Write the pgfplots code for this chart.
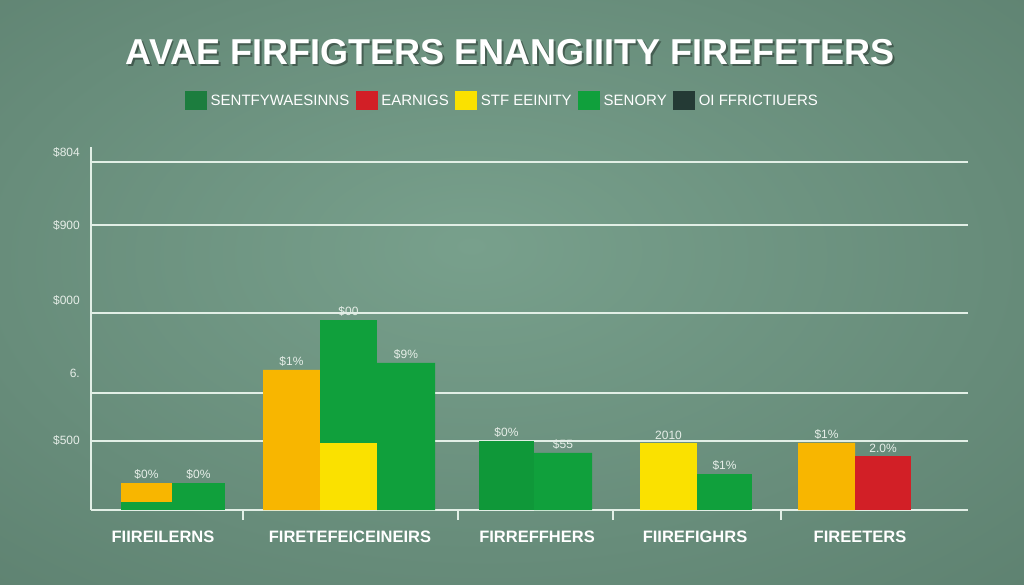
\documentclass[border=0pt]{standalone}
\usepackage{fontspec}
\setmainfont{Liberation Sans}
\usepackage{pgfplots}
\pgfplotsset{compat=1.18}
\definecolor{bgin}{HTML}{78A08C}
\definecolor{bgmid}{HTML}{567868}
\definecolor{bgout}{HTML}{45655A}
\definecolor{gridc}{HTML}{E2EFE6}
\definecolor{labc}{HTML}{E6EEE8}
\definecolor{orangeC}{HTML}{F8B600}
\definecolor{yellowC}{HTML}{FAE100}
\definecolor{greenC}{HTML}{10A03C}
\definecolor{redC}{HTML}{D21F26}
\definecolor{dkgreenC}{HTML}{1C7D3E}
\definecolor{slateC}{HTML}{243A35}
\pgfdeclareradialshading{bgshade}{\pgfpoint{-2bp}{4bp}}{color(0bp)=(bgin); color(50bp)=(bgmid); color(72bp)=(bgout)}
\begin{document}
\begin{tikzpicture}
\useasboundingbox (0bp,0bp) rectangle (1024bp,585bp);
\shade[shading=bgshade] (0bp,0bp) rectangle (1024bp,585bp);
\begin{axis}[
  at={(91bp,75bp)}, anchor=south west, scale only axis,
  width=877bp, height=363bp,
  xmin=91, xmax=968, ymin=0, ymax=363,
  clip=false,
  axis lines=left,
  axis line style={draw=gridc, line width=2bp, -},
  major tick length=0pt,
  tick style={draw=gridc, line width=2bp},
  xtick={163,350,537,695,860},
  xticklabels={FIIREILERNS, FIRETEFEICEINEIRS, FIRREFFHERS, FIIREFIGHRS, FIREETERS},
  xticklabel style={font=\fontsize{16.5bp}{18bp}\selectfont\bfseries, text=white, anchor=base, yshift=-32bp},
  extra x ticks={243,458,613,781},
  extra x tick labels={},
  extra x tick style={major tick length=10bp, tick align=outside},
  ytick={-7,70,137,210,285,358},
  yticklabels={c, \$500, 6., \$000, \$900, \$804},
  yticklabel style={font=\fontsize{12bp}{14bp}\selectfont, text=labc, anchor=east, inner sep=0pt, xshift=-11bp},
  extra y ticks={69,117,197,285,348},
  extra y tick labels={},
  extra y tick style={grid=major},
  major grid style={draw=gridc, line width=2bp},
  nodes near coords style={font=\fontsize{12bp}{13bp}\selectfont, text=labc, anchor=south, inner sep=3bp},
  legend style={at={(0.469,1.127)}, anchor=center, draw=none, fill=none, text=white,
    font=\fontsize{15bp}{16bp}\selectfont, legend columns=5,
    /tikz/every even column/.append style={column sep=5bp},
    /tikz/every odd column/.append style={column sep=2bp},
    nodes={inner sep=1.5bp}},
  legend image code/.code={\fill[#1] (0bp,-9.5bp) rectangle (22bp,9.5bp);},
]
\addlegendimage{fill=dkgreenC, draw=none}\addlegendentry{SENTFYWAESINNS}
\addlegendimage{fill=redC, draw=none}\addlegendentry{EARNIGS}
\addlegendimage{fill=yellowC, draw=none}\addlegendentry{STF EEINITY}
\addlegendimage{fill=greenC, draw=none}\addlegendentry{SENORY}
\addlegendimage{fill=slateC, draw=none}\addlegendentry{OI FFRICTIUERS}

% orange bars
\addplot[forget plot, ybar, bar shift=0pt, bar width=51, fill=orangeC, draw=none,
  nodes near coords, point meta=explicit symbolic] coordinates {(146.5,27) [\$0\%]};
\addplot[forget plot, ybar, bar shift=0pt, bar width=57, fill=orangeC, draw=none,
  nodes near coords, point meta=explicit symbolic] coordinates {(291.5,140) [\$1\%] (826.5,67) [\$1\%]};
% green bars
\addplot[forget plot, ybar, bar shift=0pt, bar width=53, fill=greenC, draw=none,
  nodes near coords, point meta=explicit symbolic] coordinates {(198.5,27) [\$0\%]};
\addplot[forget plot, ybar, bar shift=0pt, bar width=51, fill=greenC, draw=none] coordinates {(146.5,8)};
\addplot[forget plot, ybar, bar shift=0pt, bar width=57, fill=greenC, draw=none,
  nodes near coords, point meta=explicit symbolic] coordinates {(348.5,190) [\$00]};
\addplot[forget plot, ybar, bar shift=0pt, bar width=58, fill=greenC, draw=none,
  nodes near coords, point meta=explicit symbolic] coordinates {(406,147) [\$9\%] (563,57) [\$55]};
\addplot[forget plot, ybar, bar shift=0pt, bar width=55, fill=greenC!95!black, draw=none,
  nodes near coords, point meta=explicit symbolic] coordinates {(506.5,69) [\$0\%]};
\addplot[forget plot, ybar, bar shift=0pt, bar width=55, fill=greenC, draw=none,
  nodes near coords, point meta=explicit symbolic] coordinates {(724.5,36) [\$1\%]};
% yellow bars
\addplot[forget plot, ybar, bar shift=0pt, bar width=57, fill=yellowC, draw=none] coordinates {(348.5,67)};
\addplot[forget plot, ybar, bar shift=0pt, bar width=57, fill=yellowC, draw=none,
  nodes near coords, point meta=explicit symbolic] coordinates {(668.5,67) [2010]};
% red bar
\addplot[forget plot, ybar, bar shift=0pt, bar width=56, fill=redC, draw=none,
  nodes near coords, point meta=explicit symbolic] coordinates {(883,54) [2.0\%]};

\node[text=black, opacity=0.35, font=\fontsize{36bp}{40bp}\selectfont\bfseries]
  at ([xshift=1.5bp,yshift=-2bp]axis description cs:0.478,1.262) {AVAE FIRFIGTERS ENANGIIITY FIREFETERS};
\node[text=white, font=\fontsize{36bp}{40bp}\selectfont\bfseries]
  at (axis description cs:0.478,1.262) {AVAE FIRFIGTERS ENANGIIITY FIREFETERS};
\end{axis}
\end{tikzpicture}
\end{document}
